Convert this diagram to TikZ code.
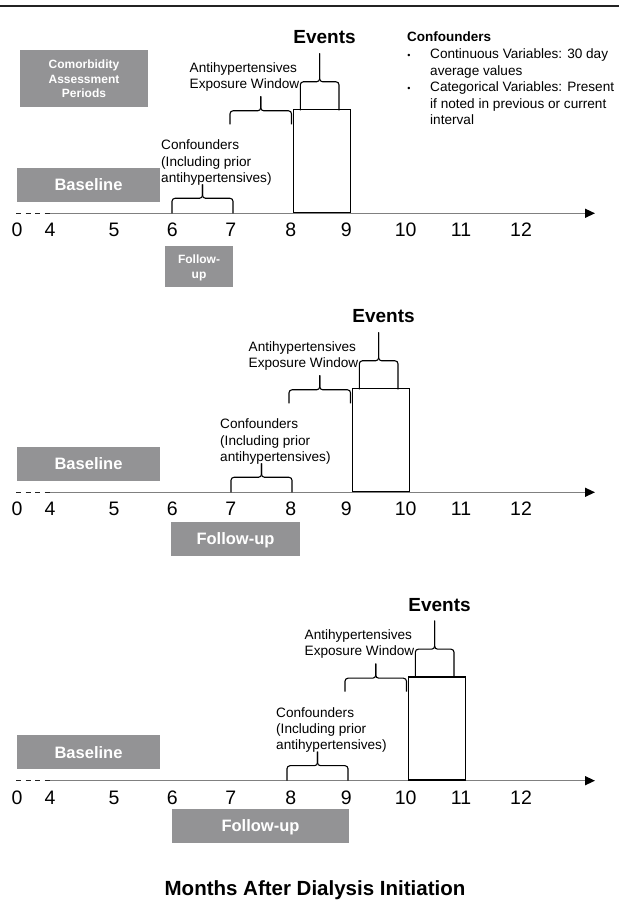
\documentclass[tikz,border=0pt]{standalone}
\usepackage{fontspec}
\setmainfont{Liberation Sans}
\usetikzlibrary{arrows.meta}

\definecolor{boxgray}{RGB}{147,147,149}
\definecolor{axisgray}{RGB}{128,128,128}
\definecolor{darkline}{RGB}{35,35,35}

\tikzset{
	graybox/.style={fill=boxgray, text=white, inner sep=0pt, align=center, text depth=0pt,
		font=\bfseries\fontsize{16.5}{18}\selectfont},
	smallbox/.style={graybox, font=\bfseries\fontsize{12}{14.2}\selectfont},
	tick/.style={anchor=base, inner sep=0pt, font=\fontsize{19.5}{20}\selectfont},
	lbl/.style={anchor=north west, inner sep=0pt, align=left, font=\fontsize{13.6}{16.2}\selectfont},
	evlbl/.style={anchor=base, inner sep=0pt, font=\bfseries\fontsize{19}{20}\selectfont},
	evbox/.style={draw, line width=1.3pt, anchor=south west, inner sep=0pt,
		minimum width=56.5pt, minimum height=103pt},
	brc/.style={line width=1.1pt, rounded corners=3pt},
	axisline/.style={axisgray, line width=1.4pt, -{Triangle[length=10pt,width=9pt,color=black]}},
	axisdash/.style={darkline, line width=1.4pt, dash pattern=on 5pt off 4.5pt}
}

\begin{document}
\begin{tikzpicture}[x=1pt,y=1pt]

	\useasboundingbox (0,0) rectangle (619,900);
	\draw[darkline,line width=2.5pt] (0,894) -- (619,894);

	\begin{scope}[shift={(0,686.7)}]
		\draw[axisdash] (16,0) -- (50,0);
		\draw[axisline] (50,0) -- (595,0);
		\path (17,-23.7) node[tick] (p1m0) {0} (50,-23.7) node[tick] (p1m4) {4}
			(114,-23.7) node[tick] (p1m5) {5} (172.3,-23.7) node[tick] (p1m6) {6}
			(230.8,-23.7) node[tick] (p1m7) {7} (290.8,-23.7) node[tick] (p1m8) {8}
			(346.2,-23.7) node[tick] (p1m9) {9} (405.6,-23.7) node[tick] (p1m10) {10}
			(461,-23.7) node[tick] (p1m11) {11} (521,-23.7) node[tick] (p1m12) {12};

		\node[smallbox, minimum width=128pt, minimum height=57pt] (comorb) at (84,134.5) {Comorbidity\\Assessment\\Periods};
		\node[graybox, minimum width=143pt, minimum height=34pt] (base1) at (88.5,28.5) {Baseline};
		\node[smallbox, minimum width=68pt, minimum height=41pt, font=\bfseries\fontsize{12}{15}\selectfont] (fol1) at (199,-53.5) {Follow-\\up};

		\node[lbl] (conf1) at (161,73.5) {Confounders\\(Including prior\\antihypertensives)};
		\draw[brc] (172,0) -- (172,15) -- (202.5,15) -- (202.5,29);
		\draw[brc] (233,0) -- (233,15) -- (202.5,15) -- (202.5,29);
		\node[lbl] (exp1) at (189.5,151.1) {Antihypertensives\\Exposure Window};
		\draw[brc] (230,89) -- (230,102.5) -- (260.75,102.5) -- (260.75,117);
		\draw[brc] (291.5,89) -- (291.5,102.5) -- (260.75,102.5) -- (260.75,117);
		\node[evbox] (evbox1) at (293,0) {};
		\draw[brc] (300.3,103) -- (300.3,131.5) -- (319.65,131.5) -- (319.65,160);
		\draw[brc] (339,103) -- (339,131.5) -- (319.65,131.5) -- (319.65,160);
		\node[evlbl] (ev1) at (324.5,169.5) {Events};

		\node[anchor=base west, inner sep=0pt, font=\bfseries\fontsize{13.5}{16}\selectfont] (leghead) at (407,171.6) {Confounders};
		\node[anchor=base, inner sep=0pt, font=\fontsize{9}{9}\selectfont] (bul1) at (409,154.5) {•};
		\node[anchor=base, inner sep=0pt, font=\fontsize{9}{9}\selectfont] (bul2) at (409,121.7) {•};
		\node[lbl, font=\fontsize{13.6}{16.4}\selectfont] (legtext) at (430,164.4) {Continuous Variables: 30 day\\average values\\Categorical Variables: Present\\if noted in previous or current\\interval};
	\end{scope}

	\begin{scope}[shift={(0,407.7)}]
		\draw[axisdash] (16,0) -- (50,0);
		\draw[axisline] (50,0) -- (595,0);
		\path (17,-23.7) node[tick] (p2m0) {0} (50,-23.7) node[tick] (p2m4) {4}
			(114,-23.7) node[tick] (p2m5) {5} (172.3,-23.7) node[tick] (p2m6) {6}
			(230.8,-23.7) node[tick] (p2m7) {7} (290.8,-23.7) node[tick] (p2m8) {8}
			(346.2,-23.7) node[tick] (p2m9) {9} (405.6,-23.7) node[tick] (p2m10) {10}
			(461,-23.7) node[tick] (p2m11) {11} (521,-23.7) node[tick] (p2m12) {12};

		\node[graybox, minimum width=143pt, minimum height=34pt] (base2) at (88.5,28.5) {Baseline};
		\node[graybox, minimum width=129pt, minimum height=33.7pt] (fol2) at (235.5,-46.5) {Follow-up};

		\node[lbl] (conf2) at (220,73.5) {Confounders\\(Including prior\\antihypertensives)};
		\draw[brc] (231,0) -- (231,15) -- (261.5,15) -- (261.5,29);
		\draw[brc] (292,0) -- (292,15) -- (261.5,15) -- (261.5,29);
		\node[lbl] (exp2) at (248.5,151.1) {Antihypertensives\\Exposure Window};
		\draw[brc] (289,89) -- (289,102.5) -- (319.75,102.5) -- (319.75,117);
		\draw[brc] (350.5,89) -- (350.5,102.5) -- (319.75,102.5) -- (319.75,117);
		\node[evbox] (evbox2) at (352,0) {};
		\draw[brc] (359.3,103) -- (359.3,131.5) -- (378.65,131.5) -- (378.65,160);
		\draw[brc] (398,103) -- (398,131.5) -- (378.65,131.5) -- (378.65,160);
		\node[evlbl] (ev2) at (383.5,169.5) {Events};
	\end{scope}

	\begin{scope}[shift={(0,119.3)}]
		\draw[axisdash] (16,0) -- (50,0);
		\draw[axisline] (50,0) -- (595,0);
		\path (17,-23.7) node[tick] (p3m0) {0} (50,-23.7) node[tick] (p3m4) {4}
			(114,-23.7) node[tick] (p3m5) {5} (172.3,-23.7) node[tick] (p3m6) {6}
			(230.8,-23.7) node[tick] (p3m7) {7} (290.8,-23.7) node[tick] (p3m8) {8}
			(346.2,-23.7) node[tick] (p3m9) {9} (405.6,-23.7) node[tick] (p3m10) {10}
			(461,-23.7) node[tick] (p3m11) {11} (521,-23.7) node[tick] (p3m12) {12};

		\node[graybox, minimum width=143pt, minimum height=34pt] (base3) at (88.5,28.5) {Baseline};
		\node[graybox, minimum width=177pt, minimum height=33.7pt] (fol3) at (260.5,-45) {Follow-up};

		\node[lbl] (conf3) at (276,73.5) {Confounders\\(Including prior\\antihypertensives)};
		\draw[brc] (287,0) -- (287,15) -- (317.5,15) -- (317.5,29);
		\draw[brc] (348,0) -- (348,15) -- (317.5,15) -- (317.5,29);
		\node[lbl] (exp3) at (304.5,151.1) {Antihypertensives\\Exposure Window};
		\draw[brc] (345,89) -- (345,102.5) -- (375.75,102.5) -- (375.75,117);
		\draw[brc] (406.5,89) -- (406.5,102.5) -- (375.75,102.5) -- (375.75,117);
		\node[evbox] (evbox3) at (408,0) {};
		\draw[brc] (415.3,103) -- (415.3,131.5) -- (434.65,131.5) -- (434.65,160);
		\draw[brc] (454,103) -- (454,131.5) -- (434.65,131.5) -- (434.65,160);
		\node[evlbl] (ev3) at (439.5,169.5) {Events};
	\end{scope}

	\node[anchor=base, inner sep=0pt, font=\bfseries\fontsize{20.5}{24}\selectfont] (title) at (315,5) {Months After Dialysis Initiation};

\end{tikzpicture}
\end{document}
